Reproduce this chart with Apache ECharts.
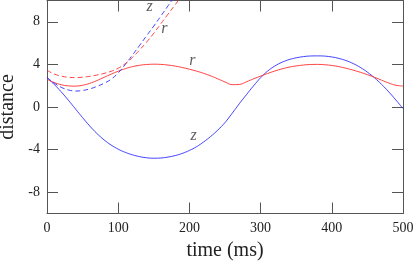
<!DOCTYPE html>
<html>
<head>
<meta charset="utf-8">
<script src="https://cdn.jsdelivr.net/npm/echarts@6/dist/echarts.min.js"></script>
<style>
html,body{margin:0;padding:0;background:#fff;}
#chart{width:415px;height:267px;}
</style>
</head>
<body>
<div id="chart"></div>
<script>
// time samples (ms)
var tSolid = [0,10,20,30,40,50,60,70,80,90,100,110,120,130,140,150,160,170,180,190,200,210,220,230,240,250,260,270,280,290,300,310,320,330,340,350,360,370,380,390,400,410,420,430,440,450,460,470,480,490,500];
var zSolid = [2.77,2.13,1.42,0.64,-0.18,-1.0,-1.78,-2.48,-3.08,-3.57,-3.96,-4.26,-4.49,-4.66,-4.77,-4.81,-4.79,-4.7,-4.56,-4.36,-4.08,-3.73,-3.28,-2.76,-2.16,-1.46,-0.6,0.3,1.15,1.98,2.75,3.38,3.85,4.2,4.45,4.62,4.73,4.79,4.8,4.78,4.7,4.56,4.36,4.08,3.72,3.27,2.74,2.12,1.42,0.66,-0.15];
var rSolid = [2.61,2.3,2.09,1.98,1.96,2.04,2.22,2.48,2.78,3.08,3.36,3.6,3.79,3.92,3.99,4.02,4.0,3.94,3.84,3.71,3.55,3.37,3.16,2.92,2.64,2.35,2.1,2.12,2.36,2.64,2.9,3.15,3.38,3.58,3.74,3.86,3.94,3.99,4.0,3.97,3.9,3.79,3.64,3.46,3.26,3.04,2.79,2.52,2.25,2.04,1.97];
var tDash = [0,10,20,30,40,50,60,70,80,90,100,110,120,130,140,150,160,170,180,190];
var zDash = [2.77,2.25,1.85,1.6,1.5,1.55,1.7,1.93,2.22,2.6,3.2,4.0,4.88,5.78,6.7,7.6,8.55,9.5,10.45,11.4];
var rDash = [3.45,3.1,2.9,2.79,2.76,2.8,2.88,3.0,3.15,3.35,3.64,4.07,4.65,5.35,6.1,6.93,7.83,8.72,9.6,10.5];
var xTicks = [0,100,200,300,400,500];
var yTicks = [-8,-4,0,4,8];
var curveLabels = [[144,9.4,'z'],[165,7.3,'r'],[204,4.3,'r'],[206,-2.7,'z']];

function pairs(t, v){ return t.map(function(x,i){ return [x, v[i]]; }); }

var serif = 'Liberation Serif';
var axisColor = '#555';
function xAx(pos, showLabel, name){
  return {
    type:'value', position:pos, min:0, max:500,
    axisLine:{show:true, onZero:false, lineStyle:{color:axisColor, width:1}},
    axisTick:{show:true, inside:true, length:11, customValues:xTicks, lineStyle:{color:axisColor}},
    axisLabel:{show:showLabel, margin:8, customValues:xTicks, color:'#222', fontFamily:serif, fontSize:14},
    splitLine:{show:false},
    name: name || '', nameLocation:'middle', nameGap:20,
    nameTextStyle:{fontFamily:serif, fontSize:20, color:'#222'}
  };
}
function yAx(pos, showLabel, name){
  return {
    type:'value', position:pos, min:-10, max:10,
    axisLine:{show:true, onZero:false, lineStyle:{color:axisColor, width:1}},
    axisTick:{show:true, inside:true, length:11, customValues:yTicks, lineStyle:{color:axisColor}},
    axisLabel:{show:showLabel, margin:7, customValues:yTicks, color:'#222', fontFamily:serif, fontSize:14},
    splitLine:{show:false},
    name: name || '', nameLocation:'middle', nameGap:26,
    nameTextStyle:{fontFamily:serif, fontSize:20, color:'#222'}
  };
}

var chart = echarts.init(document.getElementById('chart'), null, {renderer:'canvas'});
chart.setOption({
  animation:false,
  grid:{left:47, top:0.5, width:356, height:213, containLabel:false, outerBoundsMode:'none'},
  xAxis:[xAx('bottom', true, 'time (ms)'), xAx('top', false)],
  yAxis:[yAx('left', true, 'distance'), yAx('right', false)],
  series:[
    {type:'line', data:pairs(tSolid, zSolid), smooth:0.4, symbol:'none', clip:true,
     lineStyle:{color:'#3030ff', width:0.9}},
    {type:'line', data:pairs(tSolid, rSolid), smooth:0.4, symbol:'none', clip:true,
     lineStyle:{color:'#ff3030', width:0.9}},
    {type:'line', data:pairs(tDash, zDash), smooth:0.4, symbol:'none', clip:true,
     lineStyle:{color:'#3030ff', width:0.9, type:[5,3]}},
    {type:'line', data:pairs(tDash, rDash), smooth:0.4, symbol:'none', clip:true,
     lineStyle:{color:'#ff3030', width:0.9, type:[5,3]}},
    {type:'scatter', data:curveLabels.map(function(d){ return {value:[d[0],d[1]], name:d[2]}; }),
     symbolSize:0, silent:true,
     label:{show:true, position:'inside', formatter:function(p){ return p.name; },
            fontFamily:serif, fontStyle:'italic', fontSize:16, color:'#333'}}
  ]
});
</script>
</body>
</html>
